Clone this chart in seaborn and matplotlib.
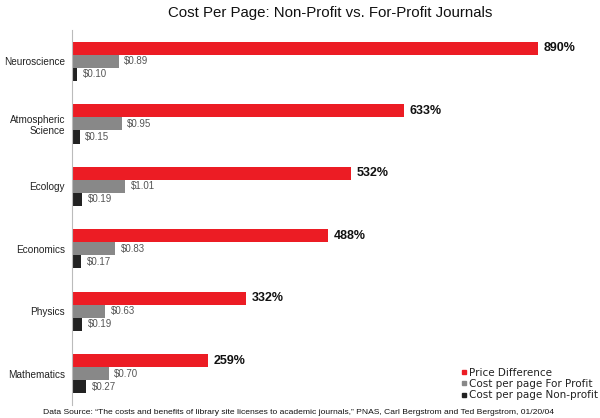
import pandas as pd
import matplotlib
matplotlib.use("Agg")
import matplotlib.pyplot as plt
import seaborn as sns
from matplotlib.lines import Line2D

fields = ['Neuroscience', 'Atmospheric\nScience', 'Ecology', 'Economics', 'Physics', 'Mathematics']
price_diff = [890, 633, 532, 488, 332, 259]          # percent
for_profit = [0.89, 0.95, 1.01, 0.83, 0.63, 0.70]    # $ per page
non_profit = [0.10, 0.15, 0.19, 0.17, 0.19, 0.27]    # $ per page

series = ['Price Difference', 'Cost per page For Profit', 'Cost per page Non-profit']
colors = ['#ec1c24', '#888888', '#222222']

# percent drawn on the same axis as dollars (100% ~ $1)
rows = []
for i, f in enumerate(fields):
    rows.append((f, series[0], price_diff[i] / 100))
    rows.append((f, series[1], for_profit[i]))
    rows.append((f, series[2], non_profit[i]))
df = pd.DataFrame(rows, columns=['field', 'series', 'value'])

sns.set_style('white')
plt.rcParams['font.family'] = ['Liberation Sans', 'DejaVu Sans']

fig = plt.figure(figsize=(6, 4.18), dpi=100)
ax = fig.add_axes([0.12, 0.031, 0.863, 0.897])

sns.barplot(data=df, x='value', y='field', hue='series', orient='h',
            palette=colors, hue_order=series, width=0.63, dodge=True,
            saturation=1, legend=False, ax=ax, linewidth=0)

for k, cont in enumerate(ax.containers):
    if k == 0:
        labels = ['%d%%' % v for v in price_diff]
        ax.bar_label(cont, labels=labels, padding=4, fontsize=9,
                     fontweight='bold', color='#111111')
    else:
        vals = for_profit if k == 1 else non_profit
        labels = ['$%.2f' % v for v in vals]
        ax.bar_label(cont, labels=labels, padding=4, fontsize=7, color='#555555')

ax.set_xlim(0, 9.88)
ax.set_ylim(5.5, -0.5)
ax.set_xlabel('')
ax.set_ylabel('')
ax.set_xticks([])
ax.tick_params(axis='y', which='major', length=0, labelsize=7.2, pad=5, labelcolor='#222222')
ax.set_yticks([0.5, 1.5, 2.5, 3.5, 4.5], minor=True)
ax.tick_params(axis='y', which='minor', length=3, color='#bbbbbb', width=0.8)
for s in ['top', 'right', 'bottom']:
    ax.spines[s].set_visible(False)
ax.spines['left'].set_color('#bbbbbb')
ax.spines['left'].set_linewidth(0.8)

handles = [Line2D([], [], marker='s', linestyle='', markersize=3, color=c) for c in colors]
leg = fig.legend(handles, series, loc='lower right', bbox_to_anchor=(1.008, 0.025),
                 frameon=False, handlelength=0.3, handletextpad=0.3, labelspacing=0.12,
                 borderpad=0.2, prop={'family': 'DejaVu Sans', 'size': 7.5})
for t in leg.get_texts():
    t.set_color('#222222')

fig.text(0.55, 0.968, 'Cost Per Page: Non-Profit vs. For-Profit Journals', fontsize=10.8,
         ha='center', va='center', color='#111111')
fig.text(0.497, 0.013, 'Data Source: \u201cThe costs and benefits of library site licenses to academic journals,\u201d '
         'PNAS, Carl Bergstrom and Ted Bergstrom, 01/20/04', ha='center', va='center', fontsize=6.1, color='#111111')

fig.savefig('out.png', dpi=100)
